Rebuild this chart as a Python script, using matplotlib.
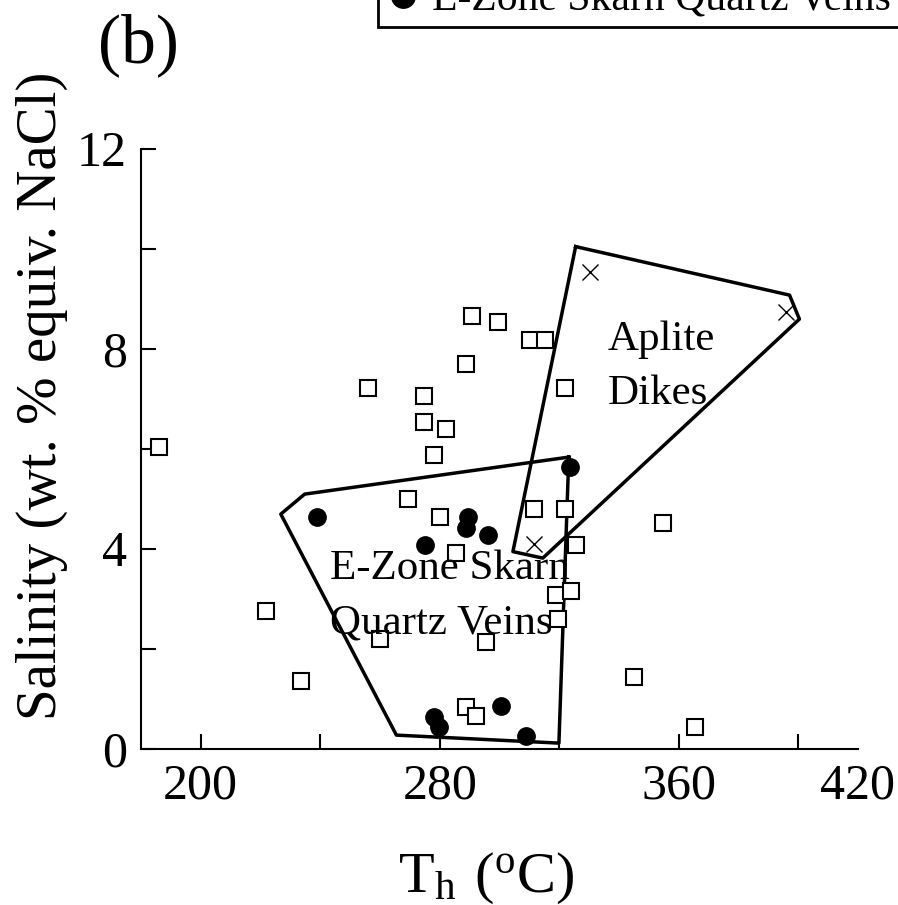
import matplotlib.pyplot as plt
import numpy as np

plt.rcParams['font.family'] = ['Liberation Serif', 'DejaVu Serif']
plt.rcParams['mathtext.fontset'] = 'custom'
plt.rcParams['mathtext.rm'] = 'Liberation Serif'

# homogenization temperature (C) and salinity (wt. % NaCl eq.)
sample_th = [290.8, 299.5, 310.1, 315.3, 288.7, 322.1, 256.1, 274.9, 274.9, 282.0,
             278.1, 186.0, 269.4, 280.0, 311.4, 322.1, 325.5, 285.4, 318.8, 324.1,
             319.6, 222.0, 259.9, 295.6, 233.4, 288.9, 292.0, 354.7, 344.9, 365.5]
sample_sal = [8.65, 8.53, 8.17, 8.17, 7.69, 7.22, 7.22, 7.06, 6.54, 6.39,
              5.87, 6.03, 4.99, 4.64, 4.79, 4.79, 4.07, 3.92, 3.07, 3.15,
              2.59, 2.76, 2.19, 2.13, 1.36, 0.84, 0.65, 4.51, 1.44, 0.44]

ezone_th = [238.8, 323.5, 289.5, 288.7, 296.2, 275.0, 300.4, 278.1, 279.7, 309.0]
ezone_sal = [4.63, 5.64, 4.64, 4.41, 4.27, 4.07, 0.86, 0.64, 0.44, 0.25]

aplite_th = [330.2, 395.9, 311.4]
aplite_sal = [9.54, 8.74, 4.09]

# outlines of the two fields
ezone_field_th = [323.2, 234.8, 226.8, 265.5, 319.9, 323.2]
ezone_field_sal = [5.83, 5.09, 4.69, 0.27, 0.11, 5.83]
aplite_field_th = [325.5, 397.1, 400.4, 314.5, 304.5, 325.5]
aplite_field_sal = [10.04, 9.07, 8.59, 3.81, 3.94, 10.04]

x_ticks = [200, 240, 280, 320, 360, 400, 420]
x_ticklabels = ['200', '', '280', '', '360', '', '420']
y_ticks = [0, 2, 4, 6, 8, 10, 12]
y_ticklabels = ['0', '', '4', '', '8', '', '12']

fig = plt.figure(figsize=(8.98, 9.05), dpi=100)
ax = fig.add_axes([0.157, 0.1728, 0.7984, 0.6630])

ax.plot(ezone_field_th, ezone_field_sal, color='black', lw=2.5)
ax.plot(aplite_field_th, aplite_field_sal, color='black', lw=2.5)

ax.plot(sample_th, sample_sal, 's', ms=11.5, mfc='white', mec='black', mew=1.5)
ezone_pts, = ax.plot(ezone_th, ezone_sal, 'o', ms=12.5, color='black')
ax.plot(aplite_th, aplite_sal, 'x', ms=12, color='black', mew=1.0)

# va='baseline' puts the last line on the given y
ax.text(336.3, 6.89, 'Aplite\nDikes', fontsize=31, ha='left', va='baseline', linespacing=1.52)
ax.text(243.2, 2.31, 'E-Zone Skarn\nQuartz Veins', fontsize=31, ha='left', va='baseline',
        linespacing=1.52)

ax.set_xlim(180, 420)
ax.set_ylim(0, 12)
ax.set_xticks(x_ticks)
ax.set_xticklabels(x_ticklabels)
ax.set_yticks(y_ticks)
ax.set_yticklabels(y_ticklabels)
ax.xaxis.get_major_ticks()[-1].tick1line.set_visible(False)

for s in ['top', 'right']:
    ax.spines[s].set_visible(False)
for s in ['left', 'bottom']:
    ax.spines[s].set_linewidth(1.5)
ax.tick_params(direction='in', length=11, width=1.5, labelsize=36, pad=10)

fig.text(42 / 898, 1 - 396 / 905, 'Salinity (wt. % equiv. NaCl)', rotation=90,
         ha='center', va='center', fontsize=41)
fig.text(486.5 / 898, 1 - 892 / 905, r'$\mathregular{T_h\ (^oC)}$',
         ha='center', va='baseline', fontsize=42)
fig.text(138 / 898, 1 - 61.7 / 905, '(b)', ha='center', va='baseline', fontsize=50)

leg = ax.legend([ezone_pts], ['E-Zone Skarn Quartz Veins'], loc='lower left',
                bbox_to_anchor=(378 / 898, 1 - 26.7 / 905, 0.6, 0.1),
                bbox_transform=fig.transFigure, mode='expand',
                fontsize=30, fancybox=False, edgecolor='black', framealpha=1,
                borderpad=0.17, borderaxespad=0, handlelength=0.86, handletextpad=0.27,
                markerscale=1.35)
leg.get_frame().set_linewidth(2)

fig.savefig('out.png', dpi=100)
